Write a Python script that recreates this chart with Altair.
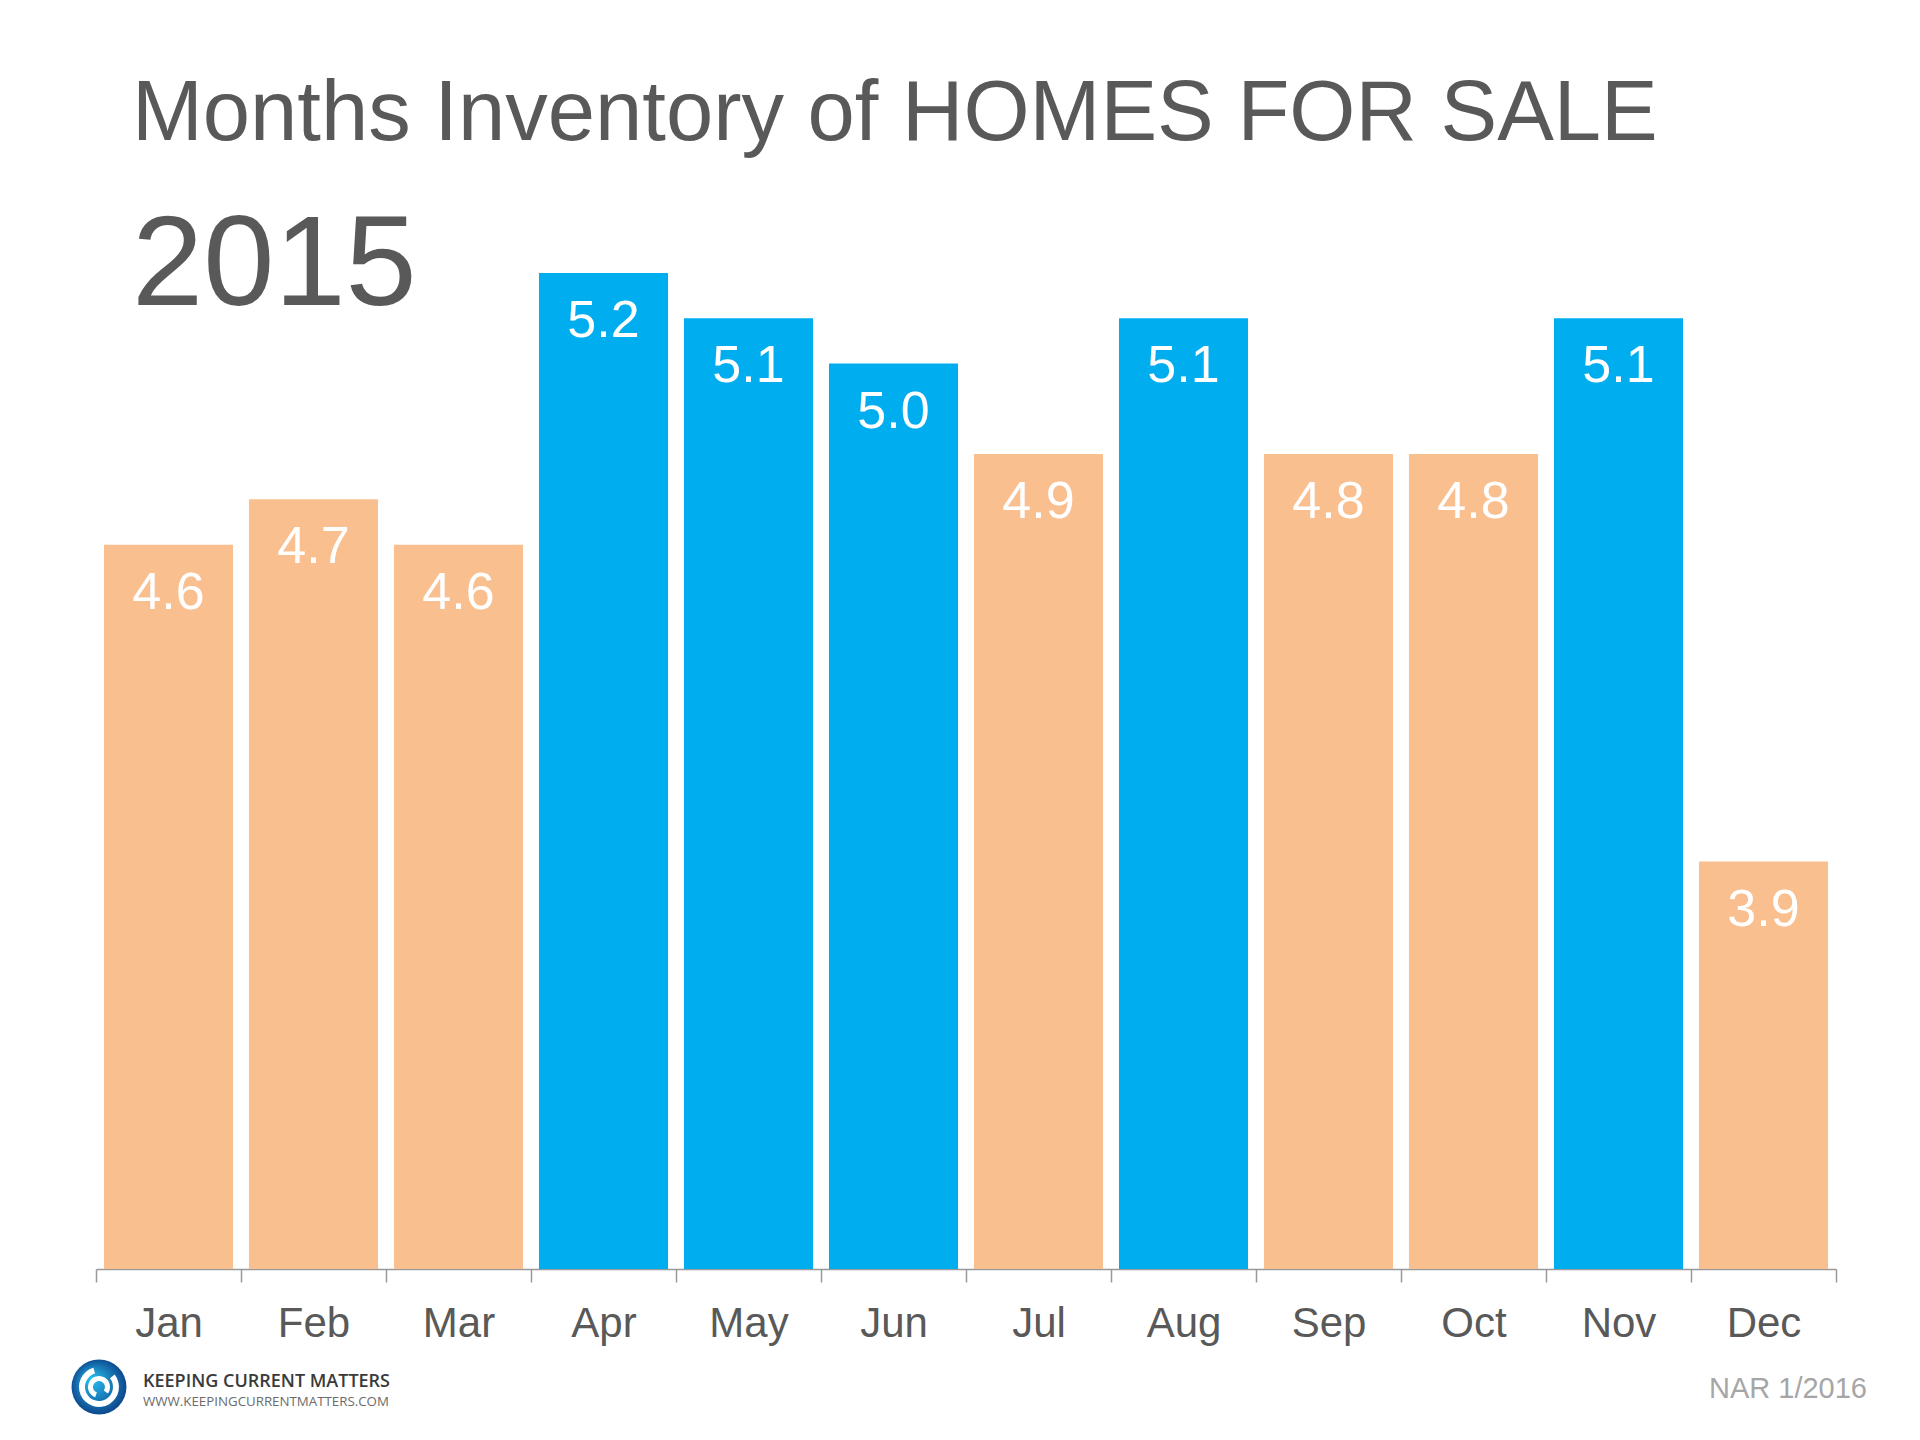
import altair as alt
import pandas as pd

# ---- data ----
months = ["Jan", "Feb", "Mar", "Apr", "May", "Jun", "Jul", "Aug", "Sep", "Oct", "Nov", "Dec"]
# bar heights as drawn in the reference (the Jul bar is drawn at the same height as Sep/Oct)
values = [4.6, 4.7, 4.6, 5.2, 5.1, 5.0, 4.8, 5.1, 4.8, 4.8, 5.1, 3.9]
# labels as printed on the bars
labels = ["4.6", "4.7", "4.6", "5.2", "5.1", "5.0", "4.9", "5.1", "4.8", "4.8", "5.1", "3.9"]
highlight = [False, False, False, True, True, True, False, True, False, False, True, False]

title_text = "Months Inventory of HOMES FOR SALE"
subtitle_text = "2015"
source_text = ["NAR 1/2016"]
brand_text = ["KEEPING CURRENT MATTERS"]
brand_url = ["WWW.KEEPINGCURRENTMATTERS.COM"]
y_domain = [3, 5.2]

df = pd.DataFrame({"month": months, "value": values, "label": labels, "hi": highlight})

W, H = 1740, 996
FONT = "Liberation Sans"
ORANGE = "#F9BF8F"
BLUE = "#00AEEF"
GREY = "#595959"

x = alt.X(
    "month:N",
    sort=months,
    scale=alt.Scale(paddingInner=0, paddingOuter=0),
    axis=alt.Axis(
        title=None, labelAngle=0, labelFontSize=42, labelFont=FONT, labelColor=GREY,
        labelPadding=21, tickBand="extent", tickSize=13, tickColor="#999999",
        tickWidth=1.5, domainColor="#999999", domainWidth=1.5, grid=False,
    ),
)
y = alt.Y("value:Q", scale=alt.Scale(domain=y_domain, zero=False, nice=False), axis=None)

bars = alt.Chart(df).mark_bar(width=alt.RelativeBandSize(0.89)).encode(
    x=x,
    y=y,
    y2=alt.datum(y_domain[0]),
    color=alt.Color("hi:N", scale=alt.Scale(domain=[True, False], range=[BLUE, ORANGE]), legend=None),
)

bar_labels = alt.Chart(df).mark_text(
    color="white", fontSize=52, font=FONT, baseline="alphabetic", dy=64
).encode(x=x, y=y, text="label:N")

src_df = pd.DataFrame({"t": source_text})
source = alt.Chart(src_df).mark_text(
    align="right", baseline="alphabetic", fontSize=29, font=FONT, color="#A6A6A6"
).encode(x=alt.value(1771), y=alt.value(1125), text="t:N")

brand_df = pd.DataFrame({"t": brand_text})
brand = alt.Chart(brand_df).mark_text(
    align="left", baseline="alphabetic", fontSize=18, font="Open Sans", fontWeight=600, color="#3a3a3a"
).encode(x=alt.value(47), y=alt.value(1114), text="t:N")

url_df = pd.DataFrame({"t": brand_url})
url = alt.Chart(url_df).mark_text(
    align="left", baseline="alphabetic", fontSize=13.3, font="Open Sans", color="#6b6b6b"
).encode(x=alt.value(47), y=alt.value(1133), text="t:N")

logo_circle = alt.Chart(brand_df).mark_circle(
    size=3019, opacity=1,
    color=alt.RadialGradient(
        gradient="radial",
        stops=[alt.GradientStop(offset=0, color="#29C4F5"), alt.GradientStop(offset=1, color="#0B3F86")],
        x1=0.35, y1=0.35, r1=0, x2=0.5, y2=0.5, r2=0.55,
    ),
).encode(x=alt.value(3), y=alt.value(1114))

logo_swirl = alt.Chart(brand_df).mark_arc(
    radius=20, radius2=14, theta=0.9, theta2=6.0, color="white"
).encode(x=alt.value(3), y=alt.value(1114))

logo_swirl2 = alt.Chart(brand_df).mark_arc(
    radius=11, radius2=6, theta=3.5, theta2=8.5, color="white"
).encode(x=alt.value(3), y=alt.value(1114))

chart = (
    alt.layer(bars, bar_labels, source, logo_circle, logo_swirl, logo_swirl2, brand, url)
    .properties(
        width=W,
        height=H,
        autosize=alt.AutoSizeParams(type="none"),
        padding={"left": 88, "top": 265, "right": 76, "bottom": 163},
        background="white",
        title=alt.TitleParams(
            text=title_text, subtitle=subtitle_text, anchor="start", frame="group", orient="top",
            font=FONT, fontSize=85, fontWeight="normal", color=GREY, baseline="top",
            subtitleFont=FONT, subtitleFontSize=128, subtitleColor=GREY, subtitlePadding=46,
            offset=-59, dx=36,
        ),
    )
    .configure_view(stroke=None)
)

chart.save("out.html", embed_options={"renderer": "svg", "actions": False})
